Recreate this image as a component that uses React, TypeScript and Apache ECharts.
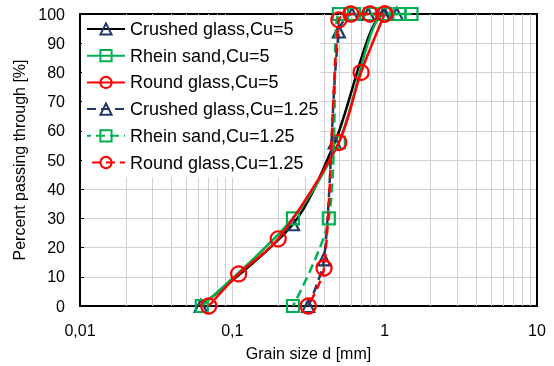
import React, { useEffect, useRef } from "react";
import * as echarts from "echarts";

// Grain size d [mm] and percent passing [%]
const crushed5: [number, number][] = [[0.062, 0], [0.25, 28], [0.47, 56], [1.0, 100], [1.2, 100]];
const rhein5: [number, number][] = [[0.063, 0], [0.25, 30], [0.5, 56], [1.0, 100], [1.25, 100], [1.5, 100]];
const round5: [number, number][] = [[0.07, 0], [0.11, 11], [0.2, 23], [0.5, 56], [0.7, 80], [1.0, 100]];
const crushed125: [number, number][] = [[0.315, 0], [0.4, 16], [0.5, 94], [0.61, 100], [0.78, 100], [0.98, 100]];
const rhein125: [number, number][] = [[0.25, 0], [0.43, 30], [0.5, 100], [0.63, 100], [0.8, 100], [1.0, 100]];
const round125: [number, number][] = [[0.315, 0], [0.4, 13], [0.5, 98], [0.6, 100], [0.8, 100], [1.0, 100]];

const seriesNames = [
  "Crushed glass,Cu=5",
  "Rhein sand,Cu=5",
  "Round glass,Cu=5",
  "Crushed glass,Cu=1.25",
  "Rhein sand,Cu=1.25",
  "Round glass,Cu=1.25",
];

const minorGridX = [
  0.02, 0.03, 0.04, 0.05, 0.06, 0.07, 0.08, 0.09,
  0.2, 0.3, 0.4, 0.5, 0.6, 0.7, 0.8, 0.9,
  2, 3, 4, 5, 6, 7, 8, 9,
];

const NAVY = "#1f3864";
const GREEN = "#00b050";
const RED = "#ff0000";
const FONT = "Liberation Sans, Arial, sans-serif";

export default function App() {
  const ref = useRef<HTMLDivElement>(null);
  useEffect(() => {
    if (!ref.current) return;
    const chart = echarts.init(ref.current, null, { renderer: "svg" });

    const mk = (
      name: string,
      data: [number, number][],
      lineColor: string,
      markColor: string,
      symbol: string,
      size: number,
      dashed: boolean,
      z: number,
      dashOffset = 0
    ) => ({
      name,
      type: "line",
      data,
      smooth: 0.3,
      clip: false,
      z,
      symbol,
      symbolSize: size,
      lineStyle: {
        color: lineColor,
        width: 2.5,
        type: dashed ? [9, 5] : "solid",
        dashOffset,
      },
      itemStyle: { color: "rgba(255,255,255,0)", borderColor: markColor, borderWidth: 2.2 },
      emphasis: { disabled: true },
    });

    chart.setOption({
      animation: false,
      textStyle: { fontFamily: FONT },
      grid: { left: 80, right: 17, top: 14, bottom: 59 },
      legend: {
        data: seriesNames,
        orient: "vertical",
        left: 82,
        top: 15,
        z: 4,
        padding: [5, 2, 6, 4],
        itemWidth: 38,
        itemHeight: 14,
        itemGap: 8.7,
        backgroundColor: "#ffffff",
        textStyle: { fontSize: 18, color: "#000", fontFamily: FONT, lineHeight: 18 },
        selectedMode: false,
      },
      xAxis: [
        {
          type: "log",
          logBase: 10,
          min: 0.01,
          max: 10,
          name: "Grain size d [mm]",
          nameLocation: "middle",
          nameGap: 39,
          nameTextStyle: { fontSize: 16, color: "#000", fontFamily: FONT },
          axisLine: { show: true, onZero: false, lineStyle: { color: "#000", width: 2 } },
          axisTick: { show: false },
          axisLabel: {
            fontSize: 16,
            color: "#000",
            margin: 16,
            fontFamily: FONT,
            formatter: (v: number) => String(v).replace(".", ","),
          },
          splitLine: { show: true, lineStyle: { color: "#d0d0d0", width: 1 } },
        },
        {
          type: "log",
          logBase: 10,
          min: 0.01,
          max: 10,
          position: "top",
          axisLine: { show: true, onZero: false, lineStyle: { color: "#000", width: 2 } },
          axisTick: { show: false },
          axisLabel: { show: false },
          splitLine: { show: false },
        },
      ],
      yAxis: [
        {
          type: "value",
          min: 0,
          max: 100,
          interval: 10,
          name: "Percent passing through [%]",
          nameLocation: "middle",
          nameGap: 39,
          nameTextStyle: { fontSize: 16, color: "#000", fontFamily: FONT },
          axisLine: { show: true, onZero: false, lineStyle: { color: "#000", width: 2 } },
          axisTick: { show: true, inside: true, length: 4, lineStyle: { color: "#000", width: 1 } },
          axisLabel: { fontSize: 16, color: "#000", margin: 15, fontFamily: FONT },
          splitLine: { show: true, lineStyle: { color: "#d0d0d0", width: 1 } },
        },
        {
          type: "value",
          min: 0,
          max: 100,
          interval: 10,
          position: "right",
          axisLine: { show: true, onZero: false, lineStyle: { color: "#000", width: 2 } },
          axisTick: { show: false },
          axisLabel: { show: false },
          splitLine: { show: false },
        },
      ],
      series: [
        {
          name: "grid-minor",
          type: "line",
          data: [],
          z: 1,
          silent: true,
          markLine: {
            z: 1,
            silent: true,
            symbol: ["none", "none"],
            label: { show: false },
            lineStyle: { color: "#d0d0d0", width: 1, type: "solid" },
            emphasis: { disabled: true },
            data: minorGridX.map((v) => ({ xAxis: v })),
          },
        },
        mk(seriesNames[0], crushed5, "#000000", NAVY, "triangle", 12, false, 5),
        mk(seriesNames[1], rhein5, GREEN, GREEN, "rect", 12, false, 6),
        mk(seriesNames[2], round5, RED, RED, "circle", 15, false, 7),
        mk(seriesNames[3], crushed125, NAVY, NAVY, "triangle", 12, true, 8, 0),
        mk(seriesNames[4], rhein125, GREEN, GREEN, "rect", 12, true, 9, 5),
        mk(seriesNames[5], round125, RED, RED, "circle", 15, true, 10, 9),
      ],
    });
    return () => chart.dispose();
  }, []);
  return (
    <div
      ref={ref}
      style={{ position: "fixed", left: 0, top: 0, width: 554, height: 366 }}
    />
  );
}
